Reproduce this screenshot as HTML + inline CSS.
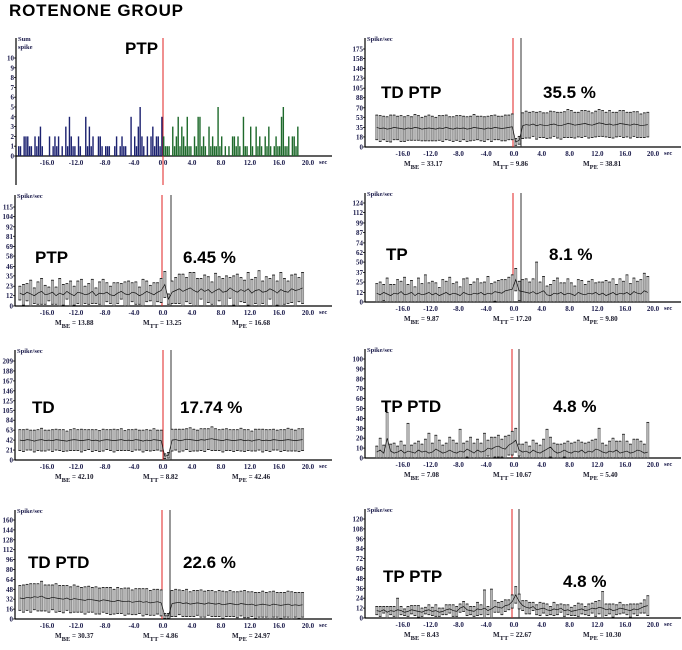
<!DOCTYPE html>
<html><head><meta charset="utf-8"><style>
body{margin:0;background:#fff}
svg text{font-family:"Liberation Serif",serif;font-weight:bold}
.big{font-family:"Liberation Sans",Arial,sans-serif;font-weight:bold}
</style></head><body>
<svg id="fig" width="682" height="645" viewBox="0 0 682 645" xmlns="http://www.w3.org/2000/svg">
<text class="big" x="9" y="16" font-size="17" textLength="174">ROTENONE GROUP</text>
</svg>
<script>
// ---- Panel 1: summed spike histogram (0.25 s bins, -20..20 s)
const p1Counts = [1,1,0,2,2,2,1,1,0,2,1,2,3,1,0,0,0,2,0,1,2,1,2,0,1,0,3,1,4,2,1,1,0,2,1,0,0,4,1,3,1,2,0,0,2,2,1,0,1,1,1,0,0,1,2,0,1,2,1,1,0,0,4,0,2,1,3,5,2,1,0,2,0,2,3,1,2,2,1,4,
 2,1,1,1,0,3,1,2,4,1,3,2,1,4,1,1,0,2,1,4,4,1,2,1,0,3,1,2,1,1,5,1,2,0,1,0,1,0,2,2,1,2,1,0,4,1,1,0,3,1,0,3,1,2,1,0,2,1,3,1,0,1,2,1,1,4,5,1,1,2,0,2,2,1,3,0,0,0,0,0];
const p1YTicks = [0,1,2,3,4,5,6,7,8,9,10];
const xTicks = [-16,-12,-8,-4,0,4,8,12,16,20];

// ---- Error-bar panels (0.5 s bins starting at -20 s): means and errors
const p2Mean = [35,33,34,32,33,35,34,33,32,34,33,35,34,32,33,34,33,32,34,33,35,33,32,34,33,34,32,33,35,34,33,32,34,33,35,34,33,34,35,36,9,12,38,40,39,41,38,40,39,38,40,41,39,38,40,42,41,39,40,41,42,40,39,41,43,42,40,41,39,40,42,41,40,39,41,40,38,39,40];
const p2Err  = [22,23,21,22,24,22,21,23,22,22,21,23,22,21,22,23,22,21,22,23,22,21,22,22,23,21,22,22,23,21,22,22,21,23,22,21,22,23,22,23,6,7,23,24,23,22,24,23,22,23,24,22,23,24,23,25,24,23,22,24,23,24,22,23,24,23,22,24,23,22,23,24,22,23,22,23,21,22,22];
const p2YTicks = [0,18,35,53,70,88,105,123,140,158,175];

const p3Mean = [15,13,16,14,12,15,17,13,14,16,12,15,13,17,14,12,16,15,13,14,17,12,15,14,16,13,12,15,17,14,13,16,15,12,14,17,15,13,16,18,25,8,16,18,20,17,19,21,18,16,20,17,19,15,18,20,16,17,21,18,16,19,17,20,15,18,19,16,17,20,18,15,19,17,16,20,18,19,21];
const p3Err  = [8,12,10,16,9,13,15,11,8,14,10,17,12,9,15,11,13,16,10,12,14,9,13,17,11,10,15,12,9,14,16,11,13,10,17,12,9,14,11,14,15,6,13,15,17,20,14,18,21,16,12,19,15,13,20,14,16,18,12,17,21,14,13,19,16,15,22,13,17,12,18,14,20,15,13,16,19,14,18];
const p3YTicks = [0,12,23,35,46,58,69,81,92,104,115];

const p4Mean = [11,9,12,10,8,11,10,13,9,10,12,8,11,9,10,12,9,11,8,10,12,9,11,10,8,12,10,9,11,10,12,9,11,10,13,12,11,14,15,16,28,14,13,12,11,13,10,12,14,9,8,11,10,12,9,11,10,8,12,10,9,11,10,12,9,11,8,10,12,9,11,10,12,9,13,11,10,14,12];
const p4Err  = [12,16,10,20,14,11,18,13,22,12,15,11,19,14,24,12,17,13,10,18,14,22,12,15,11,17,20,13,14,19,12,16,21,13,12,15,17,14,16,18,14,12,15,17,14,16,40,13,18,11,14,16,20,12,15,18,14,12,16,17,13,15,18,12,16,14,19,15,17,13,18,16,22,14,17,15,18,22,20];
const p4YTicks = [0,12,25,37,50,62,74,87,99,112,124];

const p5Mean = [42,41,43,42,40,42,43,41,42,41,43,42,41,40,42,43,42,41,42,43,41,42,40,42,43,42,41,42,43,41,42,41,43,42,40,42,41,43,42,41,8,10,42,43,41,42,44,43,42,41,43,42,44,45,43,42,41,43,42,41,42,43,41,42,40,42,43,41,42,41,43,42,41,42,43,42,41,42,43];
const p5Err  = [22,23,22,21,23,22,24,22,21,23,22,22,23,21,22,23,22,24,22,21,23,22,22,23,21,22,24,22,23,21,22,23,22,21,23,22,22,23,21,22,5,6,23,22,24,23,22,25,23,22,23,24,22,25,23,22,24,23,22,23,22,24,23,22,21,23,22,24,22,23,22,21,23,22,24,23,22,24,23];
const p5YTicks = [0,21,42,63,84,105,125,146,167,188,209];

const p6Mean = [6,8,5,20,7,5,6,8,5,7,6,5,8,6,7,5,6,9,7,5,6,8,6,5,7,6,9,7,5,8,6,7,10,9,11,12,10,9,13,15,18,8,6,7,5,8,6,5,7,9,11,7,5,6,8,6,5,7,6,8,5,7,6,9,8,6,5,7,6,8,5,6,7,5,6,8,7,5,6];
const p6Err  = [6,12,8,26,7,10,6,9,8,28,7,10,9,8,12,20,9,14,11,8,9,13,12,10,22,9,8,14,10,11,9,18,8,12,10,11,9,13,10,12,12,6,8,9,7,10,9,8,12,20,10,8,9,8,7,11,10,9,12,8,10,9,12,10,22,9,8,10,14,9,12,18,10,9,13,11,10,9,30];
const p6YTicks = [0,10,20,30,40,50,60,70,80,90,100];

const p7Mean = [34,33,35,34,36,35,37,34,33,35,34,33,32,34,31,33,32,31,30,32,31,30,29,31,30,29,28,30,29,28,29,27,28,29,27,28,26,27,28,26,5,5,25,26,27,25,26,24,25,26,25,24,26,25,24,25,23,24,25,24,23,25,24,23,24,22,23,24,23,22,24,23,22,23,24,22,23,22,23];
const p7Err  = [20,22,21,23,21,22,24,21,22,20,23,21,22,20,21,22,21,20,22,21,20,22,21,20,21,22,20,21,20,22,21,20,21,20,22,21,20,21,20,21,4,4,21,22,20,21,22,20,21,20,22,21,20,21,20,21,22,20,21,20,21,20,22,21,20,21,20,21,20,22,21,20,21,20,21,22,20,21,20];
const p7YTicks = [0,16,32,48,64,80,96,112,128,144,160];

const p8Mean = [9,8,10,7,9,8,10,9,7,8,10,9,8,7,9,10,8,9,7,8,10,11,9,8,12,14,10,9,8,11,10,12,9,11,14,13,12,15,16,20,28,20,15,13,12,14,10,11,12,10,9,11,10,12,9,10,8,9,10,11,9,10,12,11,13,12,10,11,9,10,12,11,10,9,11,10,12,14,15];
const p8Err  = [5,6,4,7,5,6,14,5,4,6,5,6,7,5,4,6,5,7,5,4,6,5,7,6,5,6,7,5,6,8,6,22,5,24,7,6,8,7,6,8,10,9,6,8,7,5,6,8,6,7,5,8,6,5,7,6,5,6,8,6,5,7,6,9,8,20,7,6,8,6,7,5,6,8,6,7,6,8,12];
const p8YTicks = [0,12,24,36,48,60,72,84,96,108,120];

const NS = 'http://www.w3.org/2000/svg';
const svg = document.getElementById('fig');
function mk(tag, attrs, parent, txt){
  const e = document.createElementNS(NS, tag);
  for (const k in attrs) e.setAttribute(k, attrs[k]);
  if (txt !== undefined) e.textContent = txt;
  (parent || svg).appendChild(e);
  return e;
}

function axes(g, P, yTicks, ymax, ylabel){
  const xs = t => P.x0 + t * P.pps;
  const ys = v => P.y0 - v / ymax * P.yh;
  const ya = mk('line', {x1:P.ax, y1:P.top, x2:P.ax, y2:P.ybot, stroke:'#000', 'stroke-width':1.2}, g);
  
  
  const xa = mk('line', {x1:P.ax, y1:P.y0, x2:P.xend, y2:P.y0, stroke:'#000', 'stroke-width':1.2}, g);
  
  
  const yl = mk('text', {x:P.ax + 2, y:P.top + 3, 'font-size':6.5, fill:'#1a1a4a'}, g, ylabel[0]);
  
  
  if (ylabel[1]) {
    const yl2 = mk('text', {x:P.ax + 2, y:P.top + 11, 'font-size':6.5, fill:'#1a1a4a'}, g, ylabel[1]);
    
    
  }
  yTicks.forEach(v => {
    mk('line', {x1:P.ax - 2, y1:ys(v), x2:P.ax, y2:ys(v), stroke:'#000', 'stroke-width':0.8}, g);
    const t = mk('text', {x:P.ax - 2, y:ys(v) + 2.5, 'font-size':7, 'text-anchor':'end', fill:'#1a1a4a'}, g, String(v));
    
    
  });
  xTicks.forEach(v => {
    const t = mk('text', {x:xs(v), y:P.y0 + 9, 'font-size':7, 'text-anchor':'middle', fill:'#1a1a4a'}, g, v.toFixed(1));
    
    
  });
  const sec = mk('text', {x:xs(20) + 11, y:P.y0 + 8, 'font-size':6.5, fill:'#1a1a4a'}, g, 'sec');
  
  
  const red = mk('line', {x1:P.red, y1:P.top, x2:P.red, y2:P.lineBot, stroke:'#e02020', 'stroke-width':1}, g);
  
  
  if (P.blk) {
    const bl = mk('line', {x1:P.blk, y1:P.top, x2:P.blk, y2:P.y0, stroke:'#333', 'stroke-width':1}, g);
    
    
  }
  return {xs, ys};
}

function labels(g, P){
  const t1 = mk('text', {class:'big', x:P.tx, y:P.ty, 'font-size':17}, g, P.title);
  
  
  if (P.pct) {
    const t2 = mk('text', {class:'big', x:P.px, y:P.py || P.ty, 'font-size':17}, g, P.pct);
    
    
  }
  if (P.means) {
    const subs = ['BE','TT','PE'];
    P.means.forEach((m, i) => {
      const t = mk('text', {x:P.mx[i], y:P.y0 + 19, 'font-size':7, fill:'#1a1a2a'}, g);
      
      
      mk('tspan', {}, t, 'M');
      mk('tspan', {dy:3, 'font-size':6.5}, t, subs[i]);
      mk('tspan', {dy:-3}, t, ' = ' + m);
    });
  }
}

// Panel 1
(function(){
  const g = mk('g', {});
  
  
  const P = {ax:16, top:38, ybot:185, y0:156, yh:98, xend:332, x0:163, pps:7.25, red:163, lineBot:185};
  const s = axes(g, P, p1YTicks, 10, ['Sum','spike']);
  const bw = 40 / p1Counts.length;
  p1Counts.forEach((c, i) => {
    if (!c) return;
    const t = -20 + i * bw;
    const r = mk('rect', {x:s.xs(t), y:s.ys(c), width:Math.max(1, bw * P.pps - 0.4), height:s.ys(0) - s.ys(c), fill: t < 0 ? '#1c2270' : '#1f6a2c'}, g);
    
    
  });
  labels(g, {tx:125, ty:54, title:'PTP'});
})();

function errPanel(name, P, mean, err, yTicks, ymax){
  const g = mk('g', {});
  
  
  const s = axes(g, P, yTicks, ymax, ['Spike/sec']);
  const bw = 0.5 * P.pps;
  const pts = [];
  mean.forEach((m, i) => {
    const t = -20 + i * 0.5;
    const cx = s.xs(t) + bw / 2;
    const lo = Math.max(0, m - err[i]), hi = m + err[i];
    const r = mk('rect', {x:cx - bw * 0.35, y:s.ys(hi), width:bw * 0.7, height:s.ys(lo) - s.ys(hi), fill:'#b4b4b4', stroke:'#555', 'stroke-width':0.4}, g);
    
    
    mk('line', {x1:cx - 1.3, y1:s.ys(hi), x2:cx + 1.3, y2:s.ys(hi), stroke:'#111', 'stroke-width':0.8}, g);
    mk('line', {x1:cx - 1.3, y1:s.ys(lo), x2:cx + 1.3, y2:s.ys(lo), stroke:'#111', 'stroke-width':0.8}, g);
    pts.push(cx.toFixed(1) + ',' + s.ys(m).toFixed(1));
  });
  const pl = mk('polyline', {points:pts.join(' '), fill:'none', stroke:'#111', 'stroke-width':0.7}, g);
  
  
  labels(g, P);
}

const L = {ax:15, x0:163, pps:7.25, xend:332, mx:[55,143,232]};
const R = {ax:365, x0:514, pps:6.95, xend:681, mx:[404,493,583]};

errPanel('panel-td-ptp', Object.assign({}, R, {top:38, y0:147, yh:98, ybot:147, red:513, blk:521, lineBot:147, title:'TD PTP', tx:381, ty:98, pct:'35.5 %', px:543, means:['33.17','9.86','38.81']}), p2Mean, p2Err, p2YTicks, 175);
errPanel('panel-ptp', Object.assign({}, L, {top:195, y0:306, yh:99, ybot:306, red:162, blk:171, lineBot:306, title:'PTP', tx:35, ty:263, pct:'6.45 %', px:183, means:['13.88','13.25','16.68']}), p3Mean, p3Err, p3YTicks, 115);
errPanel('panel-tp', Object.assign({}, R, {top:193, y0:302, yh:99, ybot:302, red:513, blk:521, lineBot:302, title:'TP', tx:386, ty:260, pct:'8.1 %', px:549, means:['9.87','17.20','9.80']}), p4Mean, p4Err, p4YTicks, 124);
errPanel('panel-td', Object.assign({}, L, {top:350, y0:460, yh:99, ybot:460, red:163, blk:171, lineBot:460, title:'TD', tx:32, ty:413, pct:'17.74 %', px:180, means:['42.10','8.82','42.46']}), p5Mean, p5Err, p5YTicks, 209);
errPanel('panel-tp-ptd', Object.assign({}, R, {top:349, y0:458, yh:99, ybot:458, red:512, blk:519, lineBot:458, title:'TP PTD', tx:381, ty:412, pct:'4.8 %', px:553, means:['7.08','10.67','5.40']}), p6Mean, p6Err, p6YTicks, 100);
errPanel('panel-td-ptd', Object.assign({}, L, {top:510, y0:619, yh:99, ybot:619, red:162, blk:170, lineBot:619, title:'TD PTD', tx:28, ty:568, pct:'22.6 %', px:183, means:['30.37','4.86','24.97']}), p7Mean, p7Err, p7YTicks, 160);
errPanel('panel-tp-ptp', Object.assign({}, R, {top:509, y0:618, yh:99, ybot:618, red:512, blk:519, lineBot:618, title:'TP PTP', tx:383, ty:582, pct:'4.8 %', px:563, py:587, means:['8.43','22.67','10.30']}), p8Mean, p8Err, p8YTicks, 120);
</script>
</body></html>
